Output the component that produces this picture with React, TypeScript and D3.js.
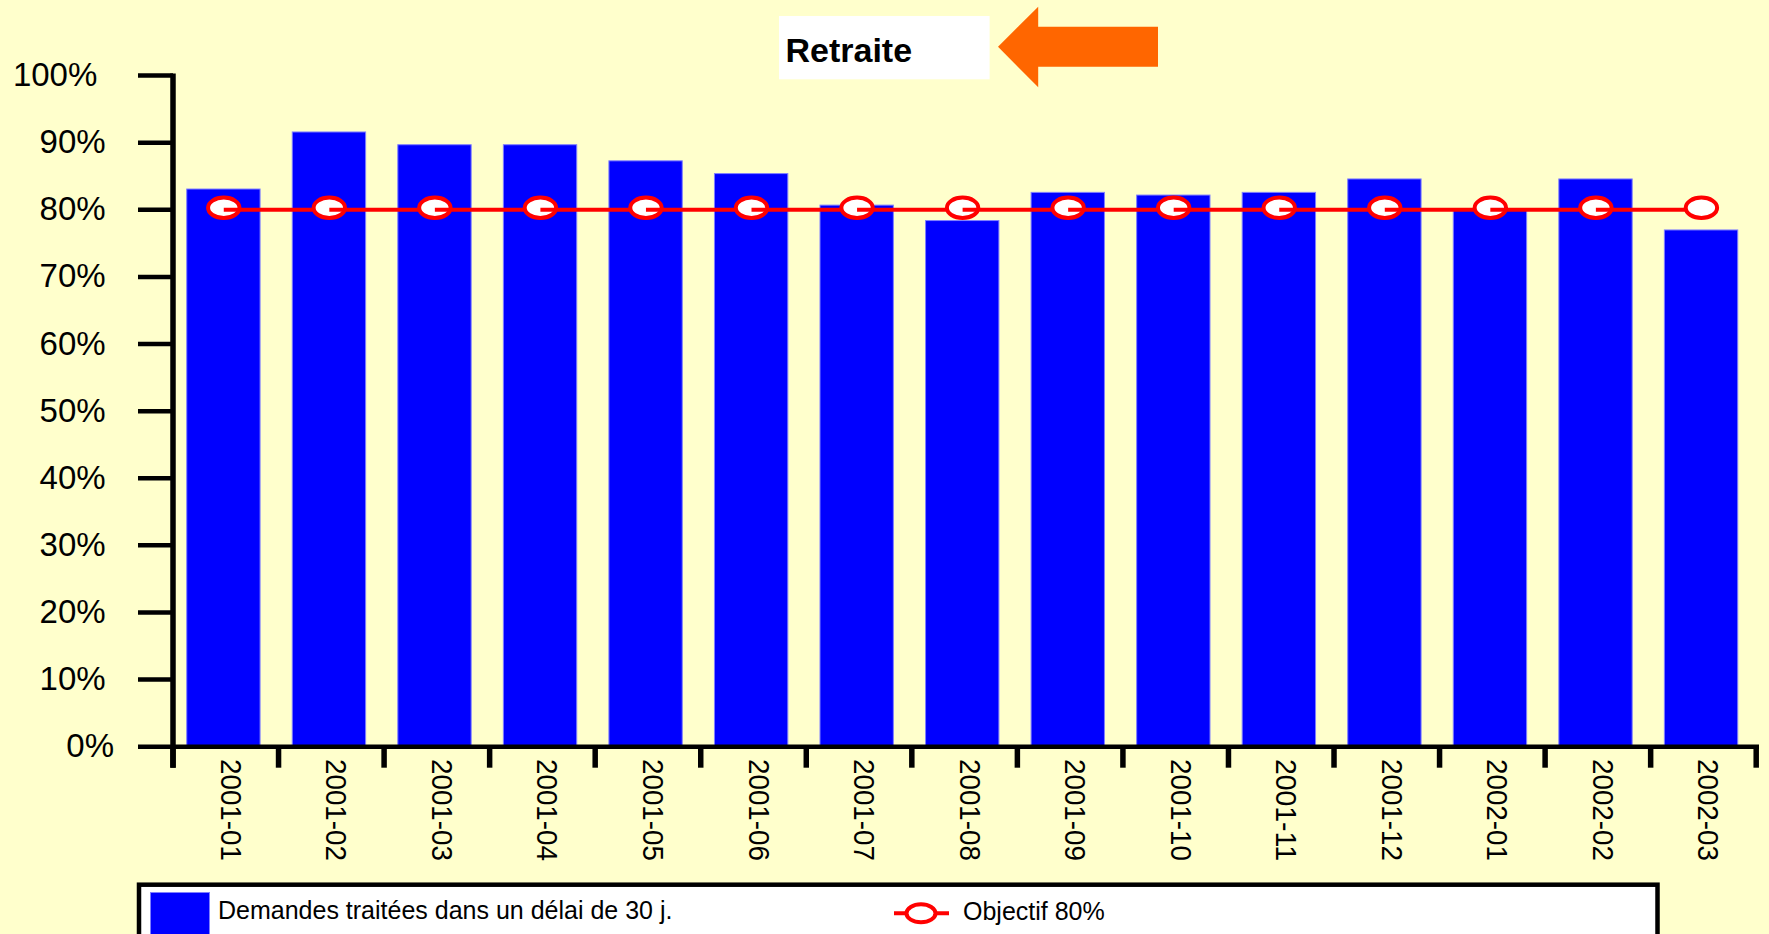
import * as d3 from "d3"
import React from "react"

// Monthly share of requests processed within 30 days (%)
const months = [
    "2001-01", "2001-02", "2001-03", "2001-04", "2001-05", "2001-06", "2001-07", "2001-08",
    "2001-09", "2001-10", "2001-11", "2001-12", "2002-01", "2002-02", "2002-03",
]
const treated = [83.1, 91.6, 89.7, 89.7, 87.3, 85.4, 80.7, 78.4, 82.6, 82.2, 82.6, 84.6, 79.9, 84.6, 77.0]
const objective = [80, 80, 80, 80, 80, 80, 80, 80, 80, 80, 80, 80, 80, 80, 80]
const yTicks = [0, 10, 20, 30, 40, 50, 60, 70, 80, 90, 100]

const title = "Retraite"
const barLabel = "Demandes traitées dans un délai de 30 j."
const lineLabel = "Objectif 80%"

const widthSvg = 1769
const heightSvg = 934
const font = "'Liberation Sans', Arial, sans-serif"
const bg = "#FFFFCC"
const blue = "#0000FF"
const red = "#FF0000"

const App = () => {
    // scales
    const scaleX = d3.scaleBand<string>().domain(months).range([173, 1756.2]).padding(0)
    const scaleY = d3.scaleLinear().domain([0, 100]).range([746.7, 75.6])
    const bw = scaleX.bandwidth()
    const cx = (m: string) => (scaleX(m) as number) + bw / 2 - 2
    const y0 = scaleY(0)

    // band boundaries for the x ticks
    const xTickPos = months.map(m => scaleX(m) as number).concat([scaleX.range()[1]])

    // objective line: marker then the segment leaving it (drawn over the marker's right half)
    const objPts = months.map((m, i) => ({ x: cx(m), y: scaleY(objective[i]) }))

    return (
        <svg width={widthSvg} height={heightSvg}
            style={{ position: "fixed", left: 0, top: 0, display: "block" }}
            fontFamily={font}>
            <rect x={0} y={0} width={widthSvg} height={heightSvg} fill={bg} />

            {/* bars */}
            <g className="bars">
                {months.map((m, i) => (
                    <rect key={m}
                        x={(scaleX(m) as number) + bw * 0.13}
                        y={scaleY(treated[i])}
                        width={bw * 0.695}
                        height={y0 - scaleY(treated[i])}
                        fill={blue} stroke="#7f7fff" strokeWidth={1} />
                ))}
            </g>

            {/* y axis */}
            <g className="y-axis">
                {yTicks.map(t => (
                    <g key={t}>
                        <line x1={138} x2={173} y1={scaleY(t)} y2={scaleY(t)} stroke="#000" strokeWidth={4.5} />
                        <text x={130.7 - 8.35 * `${t}%`.length} y={scaleY(t) + 10.5}
                            textAnchor="end" fontSize={33} fill="#000">{`${t}%`}</text>
                    </g>
                ))}
                <line x1={173} x2={173} y1={scaleY(100) - 2.2} y2={767.7} stroke="#000" strokeWidth={5.5} />
            </g>

            {/* x axis */}
            <g className="x-axis">
                <line x1={173} x2={1759} y1={y0} y2={y0} stroke="#000" strokeWidth={4.5} />
                {xTickPos.map((p, i) => (
                    <line key={i} x1={p} x2={p} y1={y0} y2={767.7} stroke="#000" strokeWidth={5.5} />
                ))}
                {months.map(m => (
                    <text key={m} fontSize={29} fill="#000"
                        transform={`translate(${cx(m) - 3}, 759) rotate(90)`}
                        textLength={102} lengthAdjust="spacingAndGlyphs">{m}</text>
                ))}
            </g>

            {/* objective line with markers */}
            <g className="objective">
                {objPts.map((p, i) => (
                    <g key={i}>
                        <ellipse cx={p.x} cy={p.y - 2} rx={15.7} ry={10.2}
                            fill="#fff" stroke={red} strokeWidth={4} />
                        {i < objPts.length - 1 &&
                            <line x1={p.x} y1={p.y} x2={objPts[i + 1].x} y2={objPts[i + 1].y}
                                stroke={red} strokeWidth={4} />}
                    </g>
                ))}
            </g>

            {/* legend */}
            <g className="legend">
                <rect x={139} y={884.7} width={1518.5} height={100} fill="#fff" stroke="#000" strokeWidth={4.5} />
                <rect x={150.5} y={892.5} width={59} height={60} fill={blue} stroke="#7f7fff" strokeWidth={1} />
                <text x={218} y={919} fontSize={25} fill="#000">{barLabel}</text>
                <line x1={894} x2={949} y1={913.3} y2={913.3} stroke={red} strokeWidth={4} />
                <ellipse cx={921} cy={913.3} rx={14.5} ry={9} fill="#fff" stroke={red} strokeWidth={4} />
                <text x={963} y={920} fontSize={25} fill="#000">{lineLabel}</text>
            </g>

            {/* title box and arrow */}
            <rect x={779} y={16} width={210.6} height={63.3} fill="#fff" />
            <text x={785.5} y={62} fontSize={34} fontWeight="bold" fill="#000">{title}</text>
            <polygon
                points="998,46.7 1038.2,6.7 1038.2,26.7 1158,26.7 1158,66.7 1038.2,66.7 1038.2,87.3"
                fill="#FF6600" />
        </svg>
    )
}

export default App
